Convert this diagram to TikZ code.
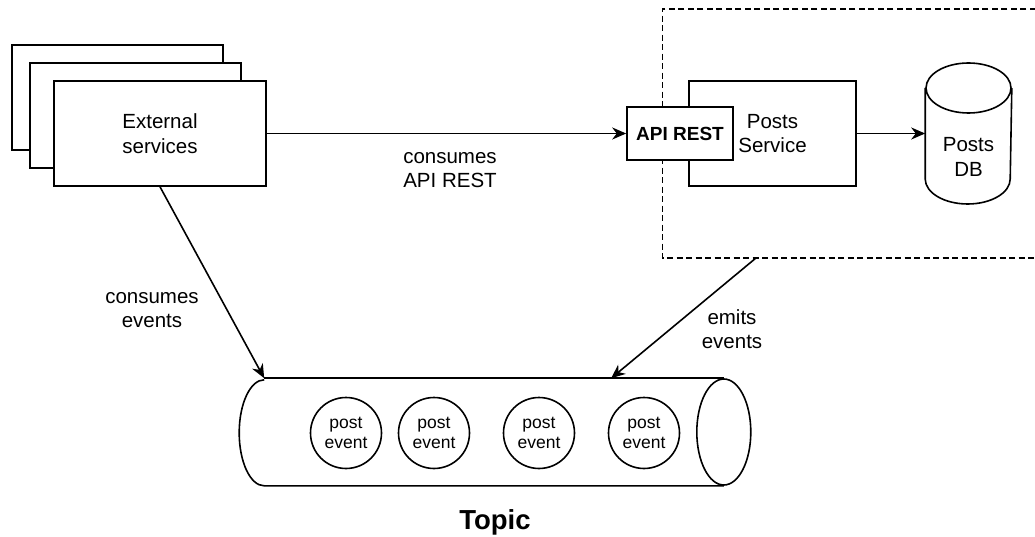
\documentclass[tikz,border=0pt]{standalone}
\usepackage{fontspec}
\setmainfont{Liberation Sans}
\usetikzlibrary{arrows.meta}

\begin{document}
\begin{tikzpicture}[x=1pt, y=-1pt, line width=1.6pt,
  txt/.style={align=center, inner sep=0pt, font=\fontsize{20.5}{24.5}\selectfont},
  box/.style={txt, draw, fill=white, rectangle},
  apibox/.style={draw, fill=white, rectangle, inner sep=0pt, font=\fontsize{19}{22}\bfseries\selectfont},
  evt/.style={draw, fill=white, circle, minimum size=71pt, inner sep=0pt, align=center, font=\fontsize{17.5}{20}\selectfont},
  arr/.style={-{Stealth[length=14pt, width=12pt, inset=4.5pt]}},
  group/.style={dash pattern=on 6pt off 3.5pt, line width=1.4pt}
]
\useasboundingbox (0,0) rectangle (1035,537);

% service group frame (open on the right side)
\node[minimum width=372pt, minimum height=247pt, inner sep=0pt] (svcgroup) at (849,133.5) {};
\draw[group] (svcgroup.north east) -- (svcgroup.north west) -- (svcgroup.south west) -- (svcgroup.south east);

% stack of external services
\node[box, minimum width=211pt, minimum height=105pt] (ext3) at (117.5,97.5) {};
\node[box, minimum width=211pt, minimum height=105pt] (ext2) at (135.5,115.5) {};
\node[box, minimum width=212pt, minimum height=105pt] (ext) at (160,133.5) {External\\services};

% posts service with its REST endpoint
\node[box, minimum width=167pt, minimum height=105pt] (svc) at (772.5,133.5) {Posts\\Service};
\node[apibox, minimum width=106pt, minimum height=53pt] (api) at (680,133.5) {API REST};

% posts database
\node[minimum width=85pt, minimum height=141pt, inner sep=0pt] (db) at (968.5,133.5) {};
\draw[fill=white] (db.west |- 0,88) -- (db.west |- 0,179)
  arc[start angle=180, end angle=360, x radius=42.5pt, y radius=25pt]
  -- (db.east |- 0,88);
\draw[fill=white] (968.5,88) ellipse[x radius=42.5pt, y radius=25pt];
\node[txt] (dbtext) at (968.5,157) {Posts\\DB};

% topic
\node[minimum width=458pt, minimum height=106pt, inner sep=0pt] (topic) at (494,432) {};
\draw (topic.north west) -- (topic.north east);
\draw (topic.south east) -- (topic.south west)
  arc[start angle=270, end angle=90, x radius=25pt, y radius=53pt];
\draw (topic.east) ellipse[x radius=27pt, y radius=53pt];
\coordinate (emitin) at ([xshift=347pt]topic.north west);
\coordinate (emitout) at ([xshift=94pt]svcgroup.south west);

\node[evt] (e1) at (346,433) {post\\event};
\node[evt] (e2) at (434,433) {post\\event};
\node[evt] (e3) at (539,433) {post\\event};
\node[evt] (e4) at (644,433) {post\\event};

\node[font=\fontsize{27.5}{30}\bfseries\selectfont, inner sep=0pt] (topiclabel) at (495,522) {Topic};

% connectors
\draw[arr] (ext.east) -- (api.west);
\draw[arr] (svc.east) -- (db.west);
\draw[arr] (ext.south) -- (topic.north west);
\draw[arr] (emitout) -- (emitin);

% connector labels
\node[txt] (lbl1) at (450,170) {consumes\\API REST};
\node[txt] (lbl2) at (152,310) {consumes\\events};
\node[txt] (lbl3) at (732,329) {emits\\events};
\end{tikzpicture}
\end{document}
